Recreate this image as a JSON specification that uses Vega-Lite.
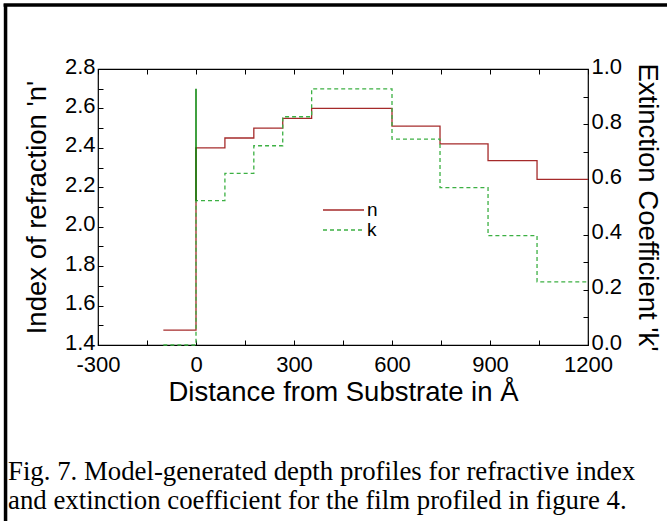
{
  "$schema": "https://vega.github.io/schema/vega-lite/v6.json",
  "width": 490,
  "height": 276,
  "autosize": {"type": "none"},
  "padding": {"left": 98, "top": 69, "right": 79, "bottom": 176},
  "background": "white",
  "config": {
    "view": {"stroke": "black", "strokeWidth": 1.2},
    "font": "Liberation Sans",
    "axis": {
      "labelFont": "Liberation Sans",
      "titleFont": "Liberation Sans",
      "labelColor": "black",
      "titleColor": "black",
      "titleFontWeight": "normal",
      "tickColor": "black",
      "grid": false,
      "domain": false,
      "labelFontSize": 22,
      "titleFontSize": 27.5,
      "tickSize": -5,
      "labelPadding": 8,
      "labelFlush": false,
      "labelOverlap": false
    },
    "legend": {
      "clipHeight": 20,
      "rowPadding": 0,
      "padding": 0
    }
  },
  "title": {
    "text": ["Fig. 7. Model-generated depth profiles for refractive index", "and extinction coefficient for the film profiled in figure 4."],
    "orient": "bottom",
    "anchor": "start",
    "frame": "group",
    "dx": -90,
    "offset": -64,
    "font": "Liberation Serif",
    "fontSize": 26.8,
    "fontWeight": "normal",
    "lineHeight": 29,
    "color": "black",
    "baseline": "top"
  },
  "datasets": {
    "nprofile": [
      {"distance": -100, "value": 1.475, "series": "n"},
      {"distance": 0, "value": 2.40, "series": "n"},
      {"distance": 88.5, "value": 2.45, "series": "n"},
      {"distance": 177, "value": 2.50, "series": "n"},
      {"distance": 265.5, "value": 2.55, "series": "n"},
      {"distance": 354, "value": 2.60, "series": "n"},
      {"distance": 600, "value": 2.51, "series": "n"},
      {"distance": 747, "value": 2.42, "series": "n"},
      {"distance": 894, "value": 2.335, "series": "n"},
      {"distance": 1044, "value": 2.24, "series": "n"},
      {"distance": 1200, "value": 2.24, "series": "n"}
    ],
    "kprofile": [
      {"distance": -100, "value": 0, "series": "k"},
      {"distance": 0, "value": 0.523, "series": "k"},
      {"distance": 88.5, "value": 0.622, "series": "k"},
      {"distance": 177, "value": 0.722, "series": "k"},
      {"distance": 265.5, "value": 0.827, "series": "k"},
      {"distance": 354, "value": 0.928, "series": "k"},
      {"distance": 600, "value": 0.746, "series": "k"},
      {"distance": 747, "value": 0.57, "series": "k"},
      {"distance": 894, "value": 0.396, "series": "k"},
      {"distance": 1044, "value": 0.229, "series": "k"},
      {"distance": 1200, "value": 0.229, "series": "k"}
    ],
    "interface": [
      {"distance": 0, "kLow": 0.523, "kHigh": 0.928}
    ]
  },
  "layer": [
    {
      "data": {"name": "nprofile"},
      "mark": {"type": "line", "interpolate": "step-after", "strokeWidth": 1.3},
      "encoding": {
        "x": {
          "field": "distance", "type": "quantitative",
          "scale": {"domain": [-300, 1200], "nice": false, "zero": false},
          "axis": {
            "orient": "bottom",
            "title": "Distance from Substrate in Å",
            "values": [-300, -150, 0, 150, 300, 450, 600, 750, 900, 1050, 1200],
            "labelExpr": "datum.value % 300 === 0 ? '' + datum.value : ''",
            "labelPadding": 14,
            "titlePadding": 3
          }
        },
        "y": {
          "field": "value", "type": "quantitative",
          "scale": {"domain": [1.4, 2.8], "nice": false, "zero": false},
          "axis": {
            "orient": "left",
            "title": "Index of refraction 'n'",
            "values": [1.4, 1.5, 1.6, 1.7, 1.8, 1.9, 2.0, 2.1, 2.2, 2.3, 2.4, 2.5, 2.6, 2.7, 2.8],
            "labelExpr": "round(datum.value * 10) % 2 === 0 ? format(datum.value, '.1f') : ''",
            "labelOffset": -3,
            "titlePadding": 13
          }
        },
        "color": {
          "field": "series", "type": "nominal",
          "scale": {"domain": ["n", "k"], "range": ["#a52a2a", "#3cb043"]},
          "legend": {
            "orient": "none", "legendX": 224, "legendY": 131, "title": null,
            "symbolType": "stroke", "symbolSize": 1681, "symbolStrokeWidth": 1.3,
            "labelFontSize": 19, "labelFont": "Liberation Sans", "labelColor": "black",
            "labelOffset": 2
          }
        },
        "strokeDash": {
          "field": "series", "type": "nominal",
          "scale": {"domain": ["n", "k"], "range": [[1, 0], [4, 3]]},
          "legend": {
            "orient": "none", "legendX": 224, "legendY": 131, "title": null,
            "symbolType": "stroke", "symbolSize": 1681, "symbolStrokeWidth": 1.3,
            "labelFontSize": 19, "labelFont": "Liberation Sans", "labelColor": "black",
            "labelOffset": 2
          }
        }
      }
    },
    {
      "data": {"name": "kprofile"},
      "mark": {"type": "line", "interpolate": "step-after", "strokeWidth": 1.3},
      "encoding": {
        "x": {
          "field": "distance", "type": "quantitative",
          "scale": {"domain": [-300, 1200], "nice": false, "zero": false},
          "axis": {
            "orient": "top",
            "title": null,
            "labels": false,
            "values": [-300, -150, 0, 150, 300, 450, 600, 750, 900, 1050, 1200]
          }
        },
        "y": {
          "field": "value", "type": "quantitative",
          "scale": {"domain": [0, 1], "nice": false, "zero": false},
          "axis": {
            "orient": "right",
            "title": "Extinction Coefficient 'k'",
            "values": [0, 0.1, 0.2, 0.3, 0.4, 0.5, 0.6, 0.7, 0.8, 0.9, 1.0],
            "labelExpr": "round(datum.value * 10) % 2 === 0 ? format(datum.value, '.1f') : ''",
            "labelOffset": -3,
            "titlePadding": 11
          }
        },
        "color": {"field": "series", "type": "nominal", "scale": {"domain": ["n", "k"], "range": ["#a52a2a", "#3cb043"]}},
        "strokeDash": {"field": "series", "type": "nominal", "scale": {"domain": ["n", "k"], "range": [[1, 0], [4, 3]]}}
      }
    },
    {
      "data": {"name": "interface"},
      "mark": {"type": "rule", "color": "#008000", "strokeWidth": 1.5},
      "encoding": {
        "x": {"field": "distance", "type": "quantitative", "scale": {"domain": [-300, 1200], "nice": false, "zero": false}, "axis": null},
        "y": {"field": "kLow", "type": "quantitative", "scale": {"domain": [0, 1], "nice": false, "zero": false}, "axis": null},
        "y2": {"field": "kHigh"}
      }
    },
    {
      "data": {"values": [{}]},
      "mark": {"type": "rule", "color": "black", "strokeWidth": 3.5},
      "encoding": {
        "x": {"datum": -583, "type": "quantitative", "scale": {"domain": [-300, 1200], "nice": false, "zero": false}, "axis": null},
        "y": {"datum": 3.13, "type": "quantitative", "scale": {"domain": [1.4, 2.8], "nice": false, "zero": false}, "axis": null},
        "y2": {"datum": 0.507}
      }
    },
    {
      "data": {"values": [{}]},
      "mark": {"type": "rule", "color": "black", "strokeWidth": 3.5},
      "encoding": {
        "x": {"datum": -589, "type": "quantitative", "scale": {"domain": [-300, 1200], "nice": false, "zero": false}, "axis": null},
        "x2": {"datum": 1442},
        "y": {"datum": 3.125, "type": "quantitative", "scale": {"domain": [1.4, 2.8], "nice": false, "zero": false}, "axis": null}
      }
    }
  ],
  "resolve": {
    "scale": {"y": "independent"},
    "axis": {"x": "independent", "y": "independent"}
  }
}
